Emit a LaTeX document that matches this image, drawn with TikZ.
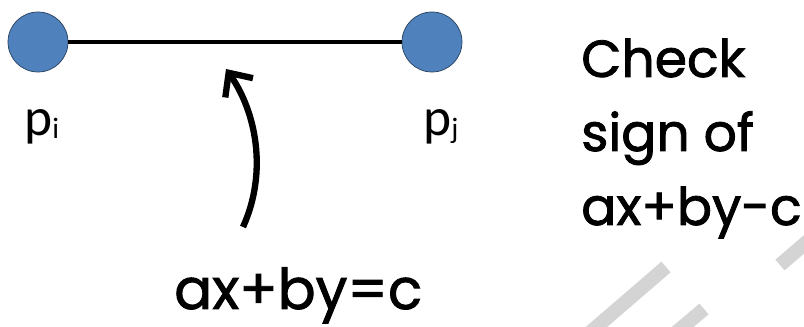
\documentclass[tikz,border=0pt]{standalone}
\usepackage{fontspec}
\setmainfont{Poppins}[FakeBold=1.6]
\newfontfamily\labfont{Carlito}
\usetikzlibrary{arrows.meta}
\definecolor{ptblue}{HTML}{4F81BD}
\definecolor{stripegray}{HTML}{D4D4D4}
\begin{document}
\begin{tikzpicture}[x=0.025cm,y=-0.025cm,
  pt/.style={circle,draw=ptblue!50!black,fill=ptblue,minimum size=1.5cm,inner sep=0pt,line width=0.5pt},
  big/.style={font=\fontsize{37}{53}\selectfont,inner sep=0pt,anchor=base west},
  plab/.style={font=\labfont\fontsize{38}{38}\selectfont,inner sep=0pt,anchor=base west},
  stripe/.style={stripegray,line width=10pt}]
\useasboundingbox (0,0) rectangle (804,327);
% background stripes
\draw[stripe] (586,336)--(666,267);
\draw[stripe] (672,336)--(704,309);
\draw[stripe] (780,265)--(830,222);
% the segment
\node[pt] (pi) at (38,42) {};
\node[pt] (pj) at (432,42) {};
\draw[line width=2.5pt] (pi)--(pj);
\node[plab] (lpi) at (24,136) {p\raisebox{-0.05em}{\fontsize{21}{21}\selectfont i}};
\node[plab] (lpj) at (423,136) {p\raisebox{-0.05em}{\fontsize{21}{21}\selectfont j}};
% arrow to the line
\coordinate (tail) at (243,227);
\coordinate (tip) at (226,69);
\draw[line width=4.5pt,-{Straight Barb[length=13pt,width=24pt]}] (tail) .. controls (268,172) and (256,112) .. (tip);
\node[big,font=\fontsize{40}{40}\selectfont] (eq) at (174,309) {ax+by=c};
% test
\node[big] (check) at (581,77) {Check};
\node[big] (sign) at (581,151) {sign of};
\node[big] (expr) at (581,225) {ax+by-c};
\end{tikzpicture}
\end{document}
